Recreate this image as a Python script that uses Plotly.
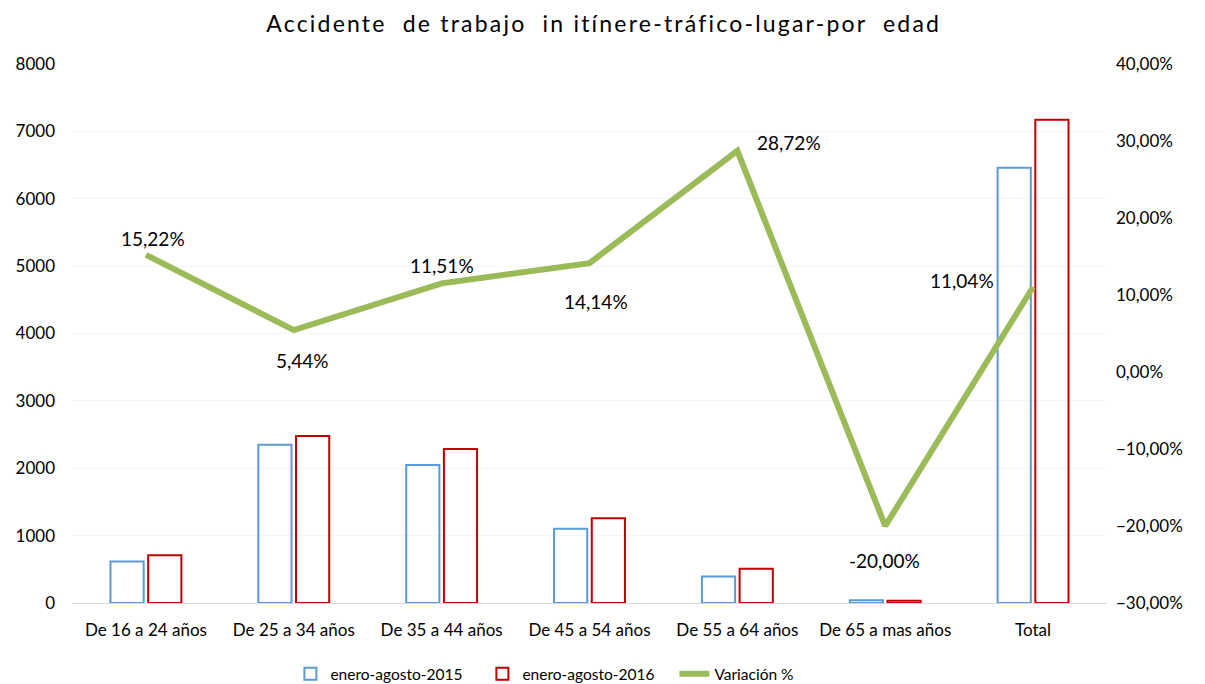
import plotly.graph_objects as go

categories = ["De 16 a 24 años", "De 25 a 34 años", "De 35 a 44 años", "De 45 a 54 años",
              "De 55 a 64 años", "De 65 a mas años", "Total"]
serie_2015 = [615, 2350, 2050, 1103, 394, 40, 6460]
serie_2016 = [709, 2478, 2286, 1259, 507, 32, 7173]
variacion = [15.22, 5.44, 11.51, 14.14, 28.72, -20.00, 11.04]
# label offsets in pixels (x, y) relative to each point
label_dx = [7, 9, 0, 6, 52, -1, -71]
label_dy = [16, -30, 18, -38, 8, -34, 6]

FONT = "Lato, 'Open Sans', sans-serif"

fig = go.Figure()
fig.add_trace(go.Bar(
    x=categories, y=serie_2015, name="enero-agosto-2015",
    marker=dict(color="rgba(255,255,255,0)", line=dict(color="#5B9BD5", width=2)),
))
fig.add_trace(go.Bar(
    x=categories, y=serie_2016, name="enero-agosto-2016",
    marker=dict(color="rgba(255,255,255,0)", line=dict(color="#C00000", width=2)),
))
fig.add_trace(go.Scatter(
    x=categories, y=variacion, name="Variación %", yaxis="y2",
    mode="lines", line=dict(color="#9BBB59", width=6),
))

for c, v, dx, dy in zip(categories, variacion, label_dx, label_dy):
    fig.add_annotation(
        x=c, y=v, xref="x", yref="y2", text=f"{v:.2f}%".replace(".", ","),
        showarrow=False, xshift=dx, yshift=dy,
        font=dict(size=19, color="#000000", family=FONT),
    )

fig.update_layout(
    width=1205, height=684,
    margin=dict(l=72, r=98, t=64, b=81, autoexpand=False),
    paper_bgcolor="white", plot_bgcolor="white",
    separators=",.",
    font=dict(family=FONT, size=17, color="#000000"),
    title=dict(text='<span style="letter-spacing:2.2px">Accidente\u00a0 de trabajo\u00a0 in itínere-tráfico-lugar-por\u00a0 edad</span>',
               x=0.501, xanchor="center", y=0.965, yanchor="middle",
               font=dict(size=23, color="#000000", family=FONT)),
    barmode="group", bargap=0.49, bargroupgap=0.12,
    showlegend=True,
    legend=dict(orientation="h", x=0.211, xanchor="left", y=-0.132, yanchor="middle",
                font=dict(size=15.5), traceorder="normal",
                entrywidth=147, entrywidthmode="pixels"),
    xaxis=dict(showgrid=False, showline=True, linecolor="#D9D9D9", linewidth=1,
               ticks="", tickfont=dict(size=17), ticklabelstandoff=12),
    yaxis=dict(range=[0, 8000], dtick=1000, showgrid=True, gridcolor="#F6F6F6",
               zeroline=False, tickformat="d", ticks="", tickfont=dict(size=17),
               ticklabelstandoff=16),
    yaxis2=dict(range=[-30, 40], dtick=10, overlaying="y", side="right", showgrid=False,
                zeroline=False, tickformat=".2f", ticksuffix="%", ticks="",
                tickfont=dict(size=17), ticklabelstandoff=8),
    hovermode=False,
)

fig.write_html("out.html", config={"displayModeBar": False},
               post_script="document.body.style.margin='0px';")
